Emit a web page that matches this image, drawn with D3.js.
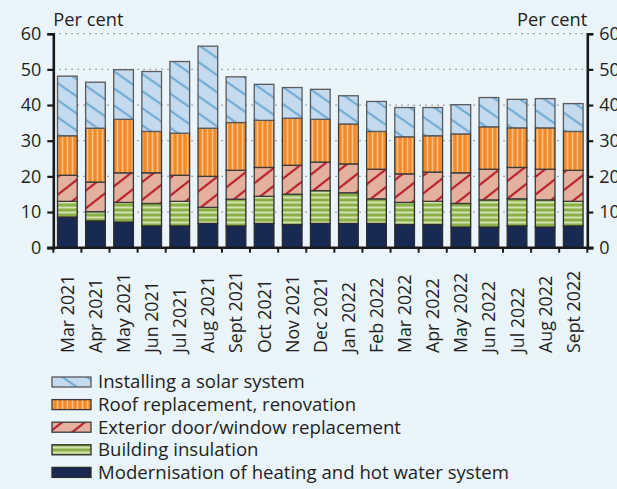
<!DOCTYPE html>
<html>
<head>
<meta charset="utf-8">
<script src="https://cdn.jsdelivr.net/npm/d3@7"></script>
<style>
  html, body { margin: 0; padding: 0; background: #eaf4fb; }
  svg { display: block; }
  text { font-family: "Open Sans", "Noto Sans", sans-serif; fill: #231f20; }
</style>
</head>
<body>
<svg id="chart" width="617" height="489"></svg>
<script>
// Months shown on the category axis
const months = ["Mar 2021","Apr 2021","May 2021","Jun 2021","Jul 2021","Aug 2021","Sept 2021",
  "Oct 2021","Nov 2021","Dec 2021","Jan 2022","Feb 2022","Mar 2022","Apr 2022","May 2022",
  "Jun 2022","Jul 2022","Aug 2022","Sept 2022"];

// Share of respondents planning each renovation (per cent), stacked bottom to top
const heating    = [8.6, 7.5, 7.2, 6.1, 6.1, 6.8, 6.1, 6.8, 6.5, 6.8, 6.8, 6.8, 6.5, 6.5, 5.8, 5.8, 6.1, 5.8, 6.1];
const insulation = [4.4, 2.6, 5.5, 6.3, 6.9, 4.5, 7.5, 7.6, 8.5, 9.2, 8.6, 6.9, 6.2, 6.5, 6.6, 7.6, 7.6, 7.6, 6.9];
const doorWindow = [7.3, 8.3, 8.3, 8.6, 7.3, 8.7, 8.1, 8.1, 8.1, 8.0, 8.1, 8.3, 8.0, 8.2, 8.6, 8.6, 8.8, 8.6, 8.7];
const roof       = [11.1, 15.1, 15.0, 11.6, 11.8, 13.5, 13.4, 13.2, 13.2, 12.0, 11.2, 10.6, 10.4, 10.2, 10.9, 11.9, 11.1, 11.6, 10.9];
const solar      = [16.7, 12.9, 13.9, 16.8, 20.1, 23.0, 12.8, 10.1, 8.6, 8.4, 7.9, 8.4, 8.2, 7.9, 8.2, 8.2, 8.0, 8.2, 7.8];

const yTicks = [0, 10, 20, 30, 40, 50, 60];

const seriesNames = [
  "Modernisation of heating and hot water system",
  "Building insulation",
  "Exterior door/window replacement",
  "Roof replacement, renovation",
  "Installing a solar system"
];
const seriesValues = [heating, insulation, doorWindow, roof, solar];
const fills = ["url(#pHeat)", "url(#pIns)", "url(#pDoor)", "url(#pRoof)", "url(#pSolar)"];
const outlines = ["#2b2b2b", "#2b2b2b", "#3a3a3a", "#3a3a3a", "#5a5a5a"];

const svg = d3.select("#chart");
const margin = { left: 53.3, right: 617 - 587.3, top: 33.7, bottom: 489 - 247.7 };
const W = 617, H = 489;

// Fill patterns
const defs = svg.append("defs");
function linePattern(id, bg, stroke, sw, size, angle) {
  const p = defs.append("pattern").attr("id", id)
    .attr("patternUnits", "userSpaceOnUse")
    .attr("width", size).attr("height", size)
    .attr("patternTransform", `rotate(${angle})`);
  p.append("rect").attr("width", size).attr("height", size).attr("fill", bg);
  p.append("line").attr("x1", 0).attr("x2", size).attr("y1", size / 2).attr("y2", size / 2)
    .attr("stroke", stroke).attr("stroke-width", sw);
}
linePattern("pSolar", "#c4daee", "#74acd3", 2.2, 14, 35);
linePattern("pDoor", "#e5b19f", "#b5222e", 2.2, 14, -38);
linePattern("pRoof", "#f38a28", "#fcc08a", 1.6, 5, 90);
linePattern("pIns", "#8aae48", "#d3e3b1", 2.0, 5, 0);
defs.append("pattern").attr("id", "pHeat").attr("patternUnits", "userSpaceOnUse")
  .attr("width", 4).attr("height", 4)
  .append("rect").attr("width", 4).attr("height", 4).attr("fill", "#182a52");

const x = d3.scaleBand().domain(months)
  .range([margin.left, W - margin.right]).paddingInner(0.3).paddingOuter(0.15);
const y = d3.scaleLinear().domain([0, 60]).range([H - margin.bottom, margin.top]);

// Dotted gridlines
svg.append("g").selectAll("line").data(yTicks.filter(d => d > 0)).join("line")
  .attr("x1", margin.left).attr("x2", W - margin.right)
  .attr("y1", d => y(d)).attr("y2", d => y(d))
  .attr("stroke", "#8a8f95").attr("stroke-width", 1.2)
  .attr("stroke-dasharray", "1.5,4.5");

// Stacked bars
const table = months.map((m, i) => {
  const row = { month: m };
  seriesNames.forEach((s, k) => row[s] = seriesValues[k][i]);
  return row;
});
const stacked = d3.stack().keys(seriesNames)(table);
svg.append("g").selectAll("g").data(stacked).join("g")
  .attr("fill", (d, k) => fills[k])
  .attr("stroke", (d, k) => outlines[k])
  .attr("stroke-width", 1.3)
  .selectAll("rect").data(d => d).join("rect")
  .attr("x", d => x(d.data.month))
  .attr("width", x.bandwidth())
  .attr("y", d => y(d[1]))
  .attr("height", d => y(d[0]) - y(d[1]));

// Axes
const axisColor = "#1a1a1a";
const leftAxis = svg.append("g").attr("transform", `translate(${margin.left},0)`)
  .call(d3.axisLeft(y).tickValues(yTicks).tickSize(6).tickPadding(6));
const rightAxis = svg.append("g").attr("transform", `translate(${W - margin.right},0)`)
  .call(d3.axisRight(y).tickValues(yTicks).tickSize(6).tickPadding(6));
[leftAxis, rightAxis].forEach(g => {
  g.select(".domain").attr("stroke", axisColor).attr("stroke-width", 2.6);
  g.selectAll(".tick line").attr("stroke", axisColor).attr("stroke-width", 2.2);
  g.selectAll(".tick text").attr("font-size", 18).attr("fill", "#231f20")
    .attr("font-family", "'Open Sans', 'Noto Sans', sans-serif");
});

// Bottom axis with ticks between the months
const bottom = svg.append("g").attr("transform", `translate(0,${y(0)})`);
bottom.append("line").attr("x1", margin.left - 6).attr("x2", W - margin.right + 6)
  .attr("stroke", axisColor).attr("stroke-width", 2.4);
const step = x.step();
const boundaries = d3.range(months.length + 1).map(i => margin.left + i * step);
bottom.selectAll("line.tk").data(boundaries).join("line").attr("class", "tk")
  .attr("x1", d => d).attr("x2", d => d).attr("y1", 0).attr("y2", 5)
  .attr("stroke", axisColor).attr("stroke-width", 2);
bottom.selectAll("text").data(months).join("text")
  .attr("transform", d => `translate(${x(d) + x.bandwidth() / 2 + 6.5},${353 - y(0)}) rotate(-90)`)
  .attr("text-anchor", "start")
  .attr("font-size", 17.8)
  .text(d => d);

// Unit labels
svg.append("text").attr("x", margin.left).attr("y", 26).attr("font-size", 18.3).text("Per cent");
svg.append("text").attr("x", W - margin.right).attr("y", 26).attr("text-anchor", "end")
  .attr("font-size", 18.3).text("Per cent");

// Legend, listed top to bottom from the top of the stack
const legendOrder = d3.range(seriesNames.length).reverse();
const legend = svg.append("g");
legendOrder.forEach((k, i) => {
  const cy = 382 + i * 22.6;
  legend.append("rect").attr("x", 52).attr("y", cy - 5).attr("width", 39).attr("height", 10)
    .attr("fill", fills[k]).attr("stroke", outlines[k]).attr("stroke-width", 1.3);
  legend.append("text").attr("x", 98).attr("y", cy + 6.3).attr("font-size", 18.6)
    .text(seriesNames[k]);
});
</script>
</body>
</html>
